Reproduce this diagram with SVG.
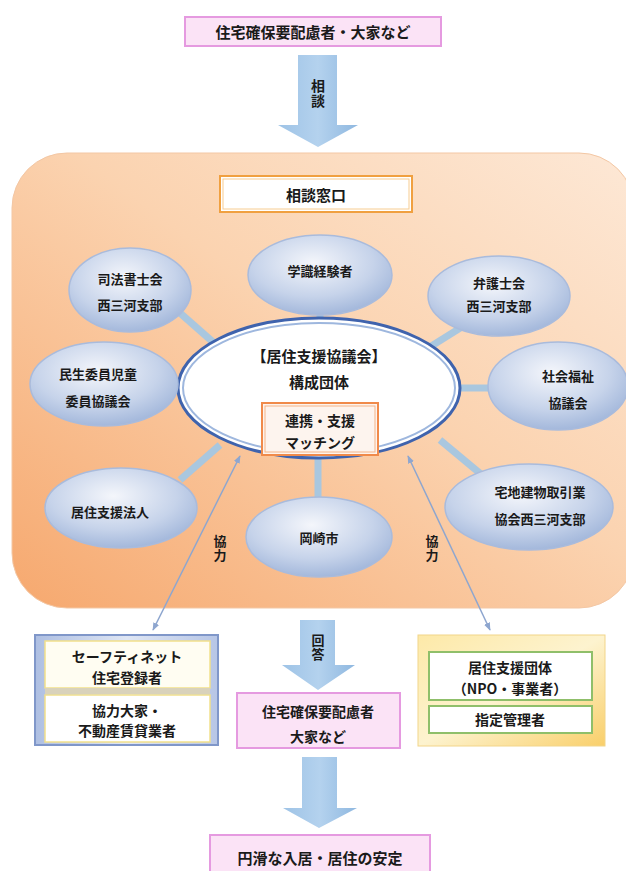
<svg xmlns="http://www.w3.org/2000/svg" width="626" height="871" viewBox="0 0 626 871">
<defs>
<linearGradient id="bg" x1="0" y1="1" x2="1" y2="0">
<stop offset="0" stop-color="#f6a86e"/>
<stop offset="0.55" stop-color="#fbd3b0"/>
<stop offset="1" stop-color="#fde8d6"/>
</linearGradient>
<radialGradient id="sat" cx="0.45" cy="0.35" r="0.7">
<stop offset="0" stop-color="#f4f6fb"/>
<stop offset="0.6" stop-color="#c6d3ea"/>
<stop offset="1" stop-color="#9cb2d8"/>
</radialGradient>
<linearGradient id="arr" x1="0" y1="0" x2="1" y2="0">
<stop offset="0" stop-color="#9ec3e6"/>
<stop offset="0.5" stop-color="#b4d2ee"/>
<stop offset="1" stop-color="#8fb8e0"/>
</linearGradient>
<linearGradient id="blueframe" x1="0" y1="0" x2="1" y2="0">
<stop offset="0" stop-color="#aebfe2"/>
<stop offset="0.5" stop-color="#dfe6f4"/>
<stop offset="1" stop-color="#b7c6e6"/>
</linearGradient>
<linearGradient id="yelframe" x1="0" y1="0" x2="1" y2="1">
<stop offset="0" stop-color="#fde9a8"/>
<stop offset="0.5" stop-color="#fdf3cf"/>
<stop offset="1" stop-color="#f9cf6a"/>
</linearGradient>
<marker id="ah" viewBox="0 0 10 10" refX="9" refY="5" markerWidth="8" markerHeight="8" orient="auto-start-reverse" markerUnits="userSpaceOnUse">
<path d="M0,1 L10,5 L0,9 Z" fill="#8ea6cf"/>
</marker>
</defs>
<style>
text{font-family:"Noto Sans CJK JP","Noto Sans CJK SC",sans-serif;font-weight:bold;fill:#1a1a1a;text-anchor:middle;dominant-baseline:central}
.t14{font-size:14px}
.t13{font-size:13px}
.t15{font-size:15px}
.v{writing-mode:vertical-rl;letter-spacing:1px}
.pink{fill:#fbe3f6;stroke:#e59ae0;stroke-width:2}
.sat{fill:url(#sat);stroke:#a9bbdc;stroke-width:1.5}
.spoke{stroke:#a9c7df;stroke-width:7;fill:none}
.thin{stroke:#8ea6cf;stroke-width:1.5;fill:none}
.bigarrow{fill:url(#arr)}
</style>

<g id="top-box">
<rect class="pink" x="185" y="17" width="256" height="29"/>
<text class="t15" x="313" y="31">住宅確保要配慮者・大家など</text>
</g>

<g id="arrow-soudan">
<path class="bigarrow" d="M298,55 H337 V125 H358 L318,147 L278,125 H298 Z"/>
<text class="t14 v" x="318" y="94">相談</text>
</g>

<g id="consult-area">
<rect x="12" y="153" width="622" height="455" rx="55" fill="url(#bg)" stroke="#f3c7a4" stroke-width="1"/>
</g>

<g id="consult-title">
<rect x="220" y="176" width="192" height="36" fill="#ffffff" stroke="#f0a040" stroke-width="2"/>
<rect x="223" y="179" width="186" height="30" fill="none" stroke="#f7cc90" stroke-width="1"/>
<text class="t15" x="316" y="194">相談窓口</text>
</g>

<g id="connectors">
<line class="spoke" x1="180" y1="313" x2="222" y2="350"/>
<line class="spoke" x1="320" y1="313" x2="320" y2="322"/>
<line class="spoke" x1="465" y1="325" x2="425" y2="350"/>
<line class="spoke" x1="176" y1="386" x2="182" y2="386"/>
<line class="spoke" x1="456" y1="388" x2="490" y2="388"/>
<line class="spoke" x1="180" y1="480" x2="220" y2="445"/>
<line class="spoke" x1="318" y1="455" x2="318" y2="500"/>
<line class="spoke" x1="440" y1="440" x2="482" y2="475"/>
<line class="thin" x1="240" y1="456" x2="153" y2="630" marker-start="url(#ah)" marker-end="url(#ah)"/>
<line class="thin" x1="408" y1="456" x2="490" y2="630" marker-start="url(#ah)" marker-end="url(#ah)"/>
<text class="t13 v" x="220" y="549">協力</text>
<text class="t13 v" x="432" y="549">協力</text>
</g>

<g id="center">
<ellipse cx="319" cy="388" rx="141" ry="70" fill="#ffffff" stroke="#3f63ad" stroke-width="3"/>
<ellipse cx="319" cy="388" rx="136" ry="65" fill="none" stroke="#9eb7de" stroke-width="2"/>
<text class="t15" x="319" y="355">【居住支援協議会】</text>
<text class="t15" x="319" y="381">構成団体</text>
<rect x="262" y="403" width="116" height="52" fill="#fdf4ee" stroke="#f08a4a" stroke-width="2"/>
<rect x="265" y="406" width="110" height="46" fill="none" stroke="#f5b488" stroke-width="1"/>
<text class="t14" x="320" y="420">連携・支援</text>
<text class="t14" x="320" y="442">マッチング</text>
</g>

<g id="n-shihou">
<ellipse class="sat" cx="130" cy="290" rx="61" ry="42"/>
<text class="t13" x="130" y="278">司法書士会</text>
<text class="t13" x="130" y="304">西三河支部</text>
</g>
<g id="n-gakushiki">
<ellipse class="sat" cx="320" cy="275" rx="72" ry="40"/>
<text class="t13" x="320" y="270">学識経験者</text>
</g>
<g id="n-bengoshi">
<ellipse class="sat" cx="499" cy="296" rx="71" ry="40"/>
<text class="t13" x="499" y="282">弁護士会</text>
<text class="t13" x="499" y="305">西三河支部</text>
</g>
<g id="n-minsei">
<ellipse class="sat" cx="104" cy="384" rx="74" ry="42"/>
<text class="t13" x="98" y="373">民生委員児童</text>
<text class="t13" x="98" y="400">委員協議会</text>
</g>
<g id="n-shakai">
<ellipse class="sat" cx="558" cy="386" rx="70" ry="44"/>
<text class="t13" x="568" y="375">社会福祉</text>
<text class="t13" x="568" y="402">協議会</text>
</g>
<g id="n-kyojuhoujin">
<ellipse class="sat" cx="121" cy="508" rx="76" ry="40"/>
<text class="t13" x="110" y="511">居住支援法人</text>
</g>
<g id="n-okazaki">
<ellipse class="sat" cx="319" cy="537" rx="73" ry="40"/>
<text class="t13" x="319" y="537">岡崎市</text>
</g>
<g id="n-takuchi">
<ellipse class="sat" cx="529" cy="507" rx="84" ry="43"/>
<text class="t13" x="540" y="491">宅地建物取引業</text>
<text class="t13" x="540" y="518">協会西三河支部</text>
</g>

<g id="arrow-kaitou">
<path class="bigarrow" d="M300,620 H335 V665 H355 L318,690 L282,665 H300 Z"/>
<text class="t13 v" x="318" y="648">回答</text>
</g>

<g id="left-box">
<rect x="35" y="635" width="183" height="110" fill="url(#blueframe)" stroke="#8097c9" stroke-width="2"/>
<rect x="45" y="641" width="165" height="47" fill="#fffdf2" stroke="#f2e08a" stroke-width="1.5"/>
<rect x="45" y="688" width="165" height="6" fill="#d9d2bb"/>
<rect x="45" y="695" width="165" height="47" fill="#ffffff" stroke="#f2e08a" stroke-width="1.5"/>
<text class="t14" x="127" y="656">セーフティネット</text>
<text class="t14" x="127" y="677">住宅登録者</text>
<text class="t14" x="127" y="710">協力大家・</text>
<text class="t14" x="127" y="730">不動産賃貸業者</text>
</g>

<g id="mid-box">
<rect class="pink" x="237" y="693" width="163" height="55"/>
<text class="t14" x="318" y="711">住宅確保要配慮者</text>
<text class="t14" x="318" y="736">大家など</text>
</g>

<g id="right-box">
<rect x="418" y="635" width="187" height="111" fill="url(#yelframe)" stroke="#f2d58a" stroke-width="1"/>
<rect x="429" y="652" width="163" height="48" fill="#ffffff" stroke="#8fbf6a" stroke-width="2"/>
<rect x="429" y="706" width="163" height="27" fill="#ffffff" stroke="#8fbf6a" stroke-width="2"/>
<text class="t14" x="510" y="667">居住支援団体</text>
<text class="t14" x="510" y="688">（NPO・事業者）</text>
<text class="t14" x="510" y="719">指定管理者</text>
</g>

<g id="arrow-result">
<path class="bigarrow" d="M302,757 H337 V808 H357 L319,828 L283,808 H302 Z"/>
</g>

<g id="final-box">
<rect class="pink" x="210" y="835" width="220" height="40"/>
<text class="t15" x="320" y="857">円滑な入居・居住の安定</text>
</g>
</svg>
